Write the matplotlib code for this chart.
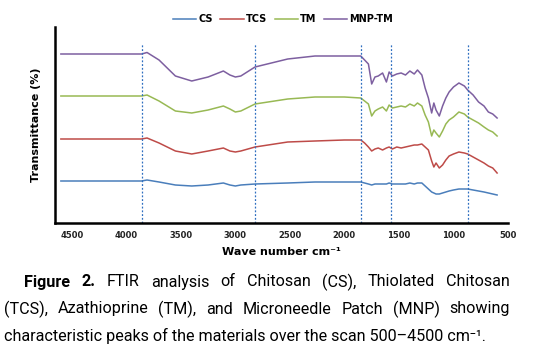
import numpy as np
import matplotlib
matplotlib.use("Agg")
import matplotlib.pyplot as plt

# wavenumbers (cm-1), shared by all spectra
wavenumber = [4600, 3860, 3810, 3700, 3550, 3400, 3250, 3110, 3050, 3000,
              2950, 2820, 2520, 2270, 2000, 1850, 1815, 1780, 1750, 1720,
              1690, 1650, 1615, 1590, 1560, 1520, 1480, 1440, 1400, 1360,
              1330, 1290, 1260, 1230, 1200, 1180, 1160, 1130, 1100, 1070,
              1040, 1000, 950, 900, 870, 820, 770, 720, 680, 640, 600]

# transmittance, arbitrary offset units (stacked spectra)
cs = [42, 42, 43, 41, 38, 37, 38, 40, 38, 37,
      38, 39, 40, 41, 41, 41, 40, 39, 38, 39,
      39, 39, 39, 40, 39, 39, 39, 39, 40, 39,
      40, 40, 37, 34, 31, 30, 29, 29, 30, 31,
      32, 33, 34, 34, 34, 33, 32, 31, 30, 29, 28]
tcs = [84, 84, 85, 80, 72, 69, 72, 75, 72, 71,
       72, 76, 81, 82, 83, 83, 80, 76, 72, 74,
       75, 73, 75, 76, 74, 76, 75, 76, 77, 78,
       78, 79, 76, 73, 62, 56, 60, 55, 58, 63,
       67, 69, 71, 70, 69, 66, 63, 60, 57, 55, 50]
tm = [127, 127, 128, 122, 112, 110, 113, 117, 114, 111,
      112, 119, 124, 126, 126, 125, 122, 119, 107, 112,
      114, 116, 112, 118, 115, 116, 117, 116, 119, 117,
      120, 117, 108, 101, 87, 93, 90, 86, 92, 99,
      103, 106, 111, 109, 106, 103, 100, 96, 93, 91, 87]
mnp_tm = [169, 169, 170.5, 163, 147, 142, 146, 152, 148, 146,
          147, 156, 164, 167, 167, 167, 163, 159, 139, 146,
          147, 150, 141, 151, 147, 149, 150, 148, 152, 149,
          153, 148, 135, 125, 110, 120, 113, 107, 117, 125,
          131, 136, 140, 137, 133, 128, 121, 117, 111, 109, 105]

series_names = ["CS", "TCS", "TM", "MNP-TM"]
colors = ["#4a7ebb", "#be4b48", "#98b954", "#7d5fa0"]
peak_lines = [3860, 2820, 1850, 1570, 870]
xticks = [4500, 4000, 3500, 3000, 2500, 2000, 1500, 1000, 500]

caption_lines = [
    "Figure 2. FTIR analysis of Chitosan (CS), Thiolated Chitosan",
    "(TCS), Azathioprine (TM), and Microneedle Patch (MNP) showing",
    "characteristic peaks of the materials over the scan 500\u20134500 cm\u207b\u00b9.",
]

fig = plt.figure(figsize=(5.6, 3.59), dpi=100)
ax = fig.add_axes([55/560, 1 - 223/359, 453/560, 196/359])

for name, vals, c in zip(series_names, [cs, tcs, tm, mnp_tm], colors):
    ax.plot(wavenumber, vals, color=c, lw=1.1, label=name)

for w in peak_lines:
    ax.plot([w, w], [0, 179], color="#2e6fc0", lw=0.9, ls=(0, (1.5, 1.5)))

ax.set_xlim(4654, 544)
ax.set_ylim(0, 196)
ax.set_xticks(xticks)
ax.set_xticklabels([str(t) for t in xticks], fontsize=6, fontweight="bold", color="#222222")
ax.set_yticks([])
ax.tick_params(axis="x", length=0, pad=6)
for s in ["top", "right"]:
    ax.spines[s].set_visible(False)
ax.spines["left"].set_linewidth(1.8)
ax.spines["bottom"].set_linewidth(1.8)

ax.set_xlabel("Wave number cm\u207b\u00b9", fontsize=8, fontweight="bold", labelpad=5)
ax.set_ylabel("Transmittance (%)", fontsize=8, fontweight="bold", labelpad=10)

fig.legend(loc="center", bbox_to_anchor=(283/560, 1 - 19/359), ncol=4, frameon=False,
           prop={"size": 7, "weight": "bold"}, handlelength=2.4,
           handletextpad=0.2, columnspacing=0.8)

# caption, justified like the source page
cap_family = ["Roboto", "DejaVu Sans"]
renderer = fig.canvas.get_renderer()

# pick a size so the last (unjustified) line is as wide as in the source
probe = fig.text(0, 0, caption_lines[2], fontsize=10, family=cap_family)
cap_size = 10 * 483 / probe.get_window_extent(renderer).width
probe.remove()

line_y = [282, 309, 336]
for i, line in enumerate(caption_lines):
    y = 1 - line_y[i] / 359
    if i == 2:
        fig.text(4/560, y, line, fontsize=cap_size, family=cap_family, va="center")
        continue
    x0 = 24 if i == 0 else 4
    x1 = 510
    words = line.split(" ")
    texts = []
    for j, wd in enumerate(words):
        bold = (i == 0 and j < 2)
        t = fig.text(0, y, wd, fontsize=cap_size, family=cap_family, va="center",
                     fontweight="bold" if bold else "normal")
        texts.append(t)
    widths = [t.get_window_extent(renderer).width for t in texts]
    gap = (x1 - x0 - sum(widths)) / (len(words) - 1)
    x = x0
    for t, wdt in zip(texts, widths):
        t.set_x(x / 560)
        x += wdt + gap

fig.savefig("out.png", dpi=100)
